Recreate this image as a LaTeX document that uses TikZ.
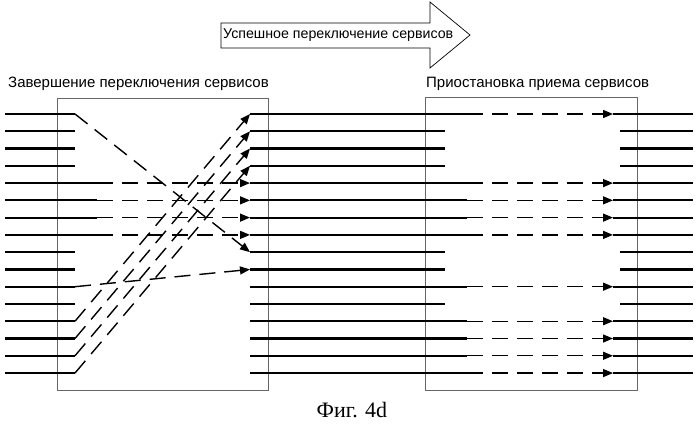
\documentclass[tikz,border=0pt]{standalone}
\usepackage{fontspec}
\setmainfont{Liberation Serif}
\newfontfamily\lab{Liberation Sans}
\usetikzlibrary{arrows.meta}
\begin{document}
\begin{tikzpicture}[x=1pt,y=-1pt,
  solid line/.style={line width=2.2pt},
  dash line/.style={line width=1.4pt,dash pattern=on 16pt off 9pt},
  arr/.style={-{Triangle[length=10pt,width=8pt]}},
  frame/.style={draw=black!60,line width=0.6pt},
  lbl/.style={font=\lab\fontsize{15}{17}\selectfont,inner sep=0pt,anchor=west}]
\useasboundingbox (0,0) rectangle (699,433);
\draw[frame] (57,98) rectangle (268,390);
\draw[frame] (425,97) rectangle (637,390);
\node[lbl] (l1) at (8,84) {Завершение переключения сервисов};
\node[lbl] (l2) at (426,84) {Приостановка приема сервисов};
\draw[line width=0.7pt] (221,23) -- (430,23) -- (430,2) -- (470,35) -- (430,68) -- (430,48) -- (221,48) -- cycle;
\node[lbl,font=\lab\fontsize{14.2}{17}\selectfont] (l3) at (223,35) {Успешное переключение сервисов};
\node[font=\fontsize{22}{26}\selectfont] (cap) at (352,410) {Фиг. 4d};
\foreach \i in {1,...,16}{
  \pgfmathsetmacro{\yy}{114+17.27*(\i-1)}
  \coordinate (a\i) at (5,\yy);
  \coordinate (b\i) at (75,\yy);
  \coordinate (c\i) at (97,\yy);
  \coordinate (d\i) at (250,\yy);
  \coordinate (e\i) at (445,\yy);
  \coordinate (f\i) at (467,\yy);
  \coordinate (g\i) at (613,\yy);
  \coordinate (h\i) at (620,\yy);
  \coordinate (k\i) at (693,\yy);
}
\foreach \i in {1,2,3,4,9,10,11,12,13,14,15,16}{\draw[solid line] (a\i) -- (b\i);}
\foreach \i in {5,6,7,8}{\draw[solid line] (a\i) -- (c\i); \draw[dash line,arr] (c\i) -- (d\i);}
\draw[dash line,arr] (b1) -- (d9);
\draw[dash line,arr] (b11) -- (d10);
\draw[dash line,arr] (b13) -- (d1);
\draw[dash line,arr] (b14) -- (d2);
\draw[dash line,arr] (b15) -- (d3);
\draw[dash line,arr] (b16) -- (d4);
\foreach \i in {1,5,6,7,8,11,13,14,15,16}{
  \draw[solid line] (d\i) -- (f\i);
  \draw[dash line,arr] (f\i) -- (g\i);
  \draw[solid line] (g\i) -- (k\i);}
\foreach \i in {2,3,4,9,10,12}{
  \draw[solid line] (d\i) -- (e\i);
  \draw[solid line] (h\i) -- (k\i);}
\end{tikzpicture}
\end{document}
